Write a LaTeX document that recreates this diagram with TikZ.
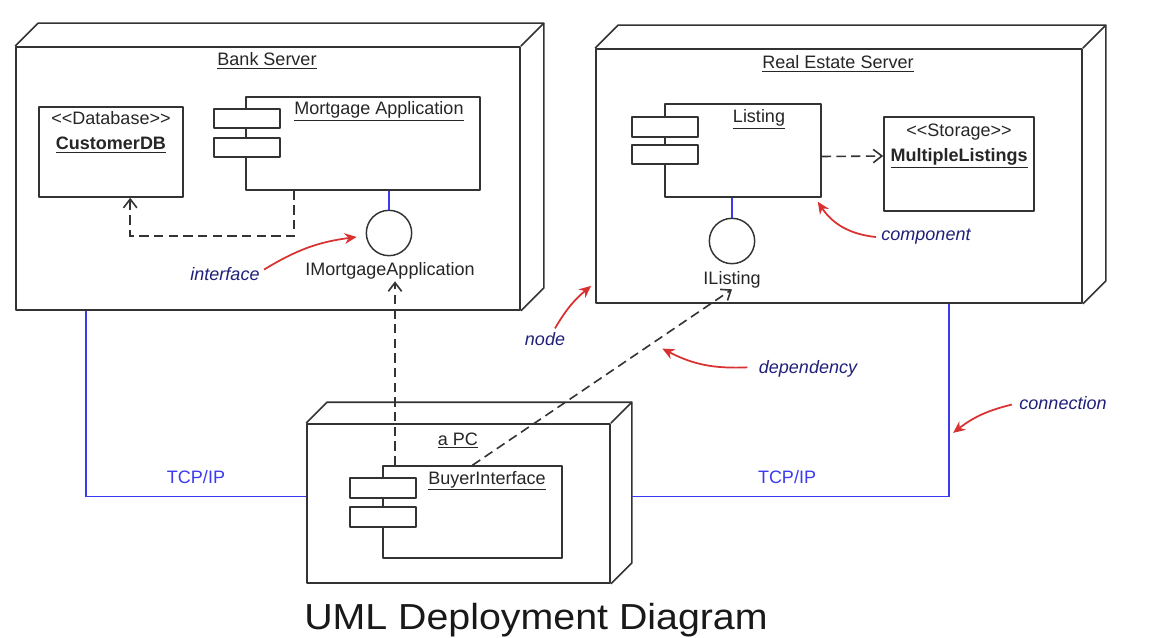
\documentclass[tikz,border=0pt]{standalone}
\usepackage{fontspec}
\setmainfont{Liberation Sans}
\usetikzlibrary{arrows.meta,calc,fit}
\definecolor{edge}{HTML}{333333}
\definecolor{conblue}{HTML}{3A3AF0}
\definecolor{annred}{HTML}{D93030}
\definecolor{annnavy}{HTML}{20207A}
\newcommand{\deploynode}[2]{%
  \draw[boxline] (#1.north west) -- ++(#2,-#2) -| ($(#1.south east)+(#2,-#2)$) -- (#1.south east);
  \draw[boxline] (#1.north east) -- ++(#2,-#2);}
\begin{document}
\begin{tikzpicture}[x=0.75pt,y=-0.75pt,
  boxline/.style={draw=edge, line width=1.3pt, line join=round, inner sep=0pt},
  comp/.style={draw=edge, line width=1.2pt, line join=round, inner sep=0pt, fill=white},
  iface/.style={circle, draw=edge, line width=1.1pt, minimum size=34pt, inner sep=0pt, fill=white},
  txt/.style={font=\fontsize{13.5}{16}\selectfont, text=black!85, inner sep=1pt, anchor=base},
  ann/.style={font=\fontsize{13.5}{16}\selectfont\itshape, text=annnavy, inner sep=1pt, anchor=base},
  conn/.style={draw=conblue, line width=1.3pt},
  dep/.style={draw=edge, line width=1.2pt, dash pattern=on 7pt off 4pt, -{Straight Barb[length=6.5pt,width=10pt]}},
  redarr/.style={draw=annred, line width=1.3pt, -{Stealth[length=9pt,width=8pt]}}]
\useasboundingbox (0,0) rectangle (1157,638);
\clip (0,0) rectangle (1157,638);
\fill[white] (0,0) rectangle (1157,638);

% ---------- Bank Server ----------
\node[boxline, fit={(16,47) (520,310)}] (bank) {};
\deploynode{bank}{23}
\node[txt] (banklbl) at (267,66) {\underline{Bank Server}};
\node[comp, fit={(39,107) (183,197)}] (db) {};
\node[txt] (dbst) at (111,125) {<{}<Database>{}>};
\node[txt] (dbname) at (111,150) {\textbf{\underline{CustomerDB}}};
\node[comp, fit={(246,97) (480,190)}] (mort) {};
\node[comp, fit={(214,109) (280,128)}] (mortt1) {};
\node[comp, fit={(214,138) (280,157)}] (mortt2) {};
\node[txt] (mortlbl) at (379,115) {\underline{Mortgage Application}};
\node[iface] (imort) at (389,233) {};
\node[txt] (imortlbl) at (390,276) {IMortgageApplication};
\draw[conn] (mort.south -| imort.north) -- (imort.north);
\draw[dep] ($(mort.south west)+(49,0)$) -- ++(0,45) -| ($(db.south west)+(92,0)$);

% ---------- Real Estate Server ----------
\node[boxline, fit={(596,49) (1082,303)}] (res) {};
\deploynode{res}{23}
\node[txt] (reslbl) at (838,69) {\underline{Real Estate Server}};
\node[comp, fit={(665,104) (821,197)}] (listing) {};
\node[comp, fit={(632,117) (698,137)}] (listt1) {};
\node[comp, fit={(632,145) (698,164)}] (listt2) {};
\node[txt] (listlbl) at (759,123) {\underline{Listing}};
\node[comp, fit={(884,117) (1034,211)}] (store) {};
\node[txt] (storest) at (959,137) {<{}<Storage>{}>};
\node[txt] (storename) at (959,162) {\textbf{\underline{MultipleListings}}};
\node[iface] (ilist) at (732,241) {};
\node[txt] (ilistlbl) at (732,284) {IListing};
\draw[conn] (listing.south -| ilist.north) -- (ilist.north);
\draw[dep] ($(listing.east)+(0,6)$) -- ($(store.west)+(0,-8)$);

% ---------- a PC ----------
\node[boxline, fit={(307,424) (610,583)}] (pc) {};
\deploynode{pc}{21}
\node[txt] (pclbl) at (458,445) {\underline{a PC}};
\node[comp, fit={(383,466) (562,558)}] (buyer) {};
\node[comp, fit={(350,478) (416,498)}] (buyt1) {};
\node[comp, fit={(350,507) (416,527)}] (buyt2) {};
\node[txt] (buylbl) at (487,484) {\underline{BuyerInterface}};

% ---------- dependencies from the PC ----------
\coordinate (ima) at ($(imortlbl.south)+(5,0)$);
\draw[dep] (buyer.north -| ima) -- (ima);
\draw[dep] (buyer.north) -- (ilistlbl.south);

% ---------- connections ----------
\draw[conn] ($(bank.south west)+(71,0)$) |- ($(pc.west)+(0,-7)$);
\draw[conn] ($(res.south west)+(354,0)$) |- ($(pc.east)+(21,-7)$);
\node[txt, text=conblue] (tcp1) at (196,483) {TCP/IP};
\node[txt, text=conblue] (tcp2) at (787,483) {TCP/IP};

% ---------- annotations ----------
\node[ann] (intlbl) at (225,280) {interface};
\node[ann] (complbl) at (926,241) {component};
\node[ann] (nodelbl) at (545,345) {node};
\node[ann] (deplbl) at (808,373) {dependency};
\node[ann] (connlbl) at (1063,409) {connection};
\coordinate (depmid) at ($(buyer.north)!0.72!(ilistlbl.south)$);
\draw[redarr] ($(intlbl.east)+(3,-4)$) to[bend left=12] ($(imort.west)+(-9,4)$);
\draw[redarr] ($(nodelbl.north)+(10,-2)$) to[bend left=10] ($(res.south west)+(-4,-18)$);
\draw[redarr] ($(deplbl.west)+(-10,-1)$) to[bend left=15] ($(depmid)+(3,10)$);
\draw[redarr] ($(complbl.west)+(-4,0)$) to[bend left=25] ($(listing.south east)+(-4,4)$);
\draw[redarr] ($(connlbl.west)+(-6,2)$) to[bend right=12] ($(res.south west)+(358,129)$);

% ---------- title ----------
\node[text=black!90, anchor=base, inner sep=0pt] (title) at (536,629) {\scalebox{1}[0.92]{\fontsize{29.5}{34}\selectfont UML Deployment Diagram}};
\end{tikzpicture}
\end{document}
